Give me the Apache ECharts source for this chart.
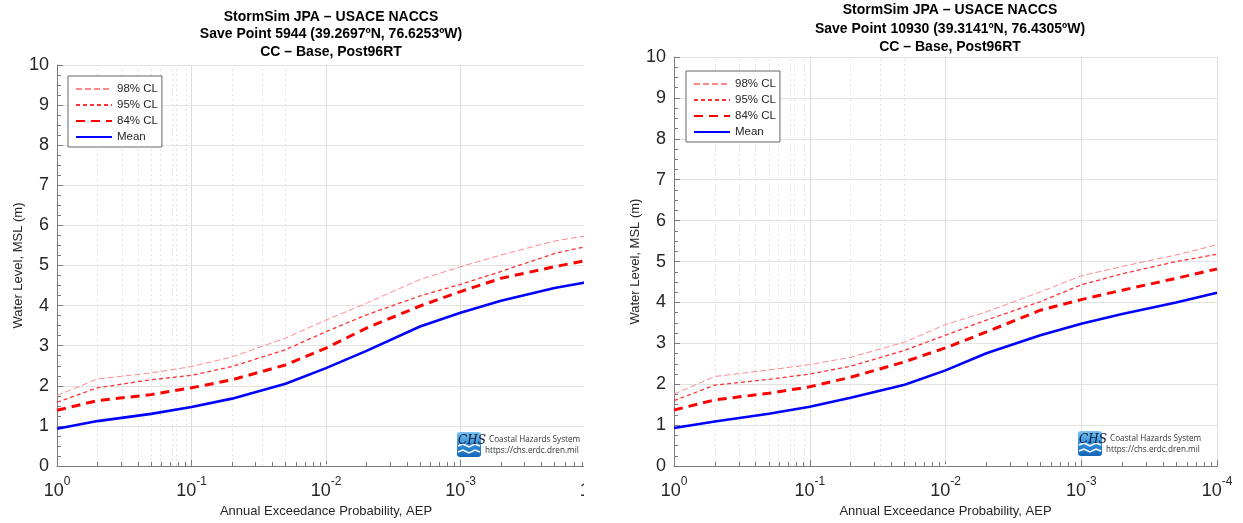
<!DOCTYPE html>
<html>
<head>
<meta charset="utf-8">
<script src="https://cdn.jsdelivr.net/npm/echarts@6/dist/echarts.min.js"></script>
<style>
html,body{margin:0;padding:0;background:#fff;}
#c{width:1243px;height:523px;}
</style>
</head>
<body>
<div id="c"></div>
<script>
// ---- data ----
const aep = [1, 0.5, 0.2, 0.1, 0.05, 0.02, 0.01, 0.005, 0.002, 0.001, 0.0005, 0.0002, 0.0001];
// Left: Save Point 5944
const meanL = [0.93, 1.12, 1.30, 1.47, 1.68, 2.05, 2.44, 2.87, 3.48, 3.82, 4.12, 4.44, 4.62];
const cl84L = [1.39, 1.63, 1.78, 1.95, 2.15, 2.52, 2.94, 3.44, 3.99, 4.35, 4.68, 4.97, 5.17];
const cl95L = [1.59, 1.95, 2.15, 2.26, 2.48, 2.90, 3.35, 3.77, 4.24, 4.53, 4.85, 5.30, 5.52];
const cl98L = [1.76, 2.17, 2.32, 2.48, 2.72, 3.19, 3.64, 4.06, 4.65, 4.97, 5.26, 5.61, 5.78];
// Right: Save Point 10930
const meanR = [0.93, 1.09, 1.28, 1.45, 1.67, 1.99, 2.34, 2.76, 3.20, 3.48, 3.72, 4.00, 4.24];
const cl84R = [1.37, 1.62, 1.78, 1.94, 2.17, 2.55, 2.89, 3.28, 3.81, 4.07, 4.30, 4.59, 4.82];
const cl95R = [1.60, 1.98, 2.12, 2.25, 2.44, 2.83, 3.20, 3.57, 4.02, 4.43, 4.70, 5.00, 5.18];
const cl98R = [1.76, 2.19, 2.35, 2.48, 2.66, 3.03, 3.46, 3.77, 4.26, 4.65, 4.88, 5.16, 5.41];

const seriesNames = ['98% CL', '95% CL', '84% CL', 'Mean'];
const titleL = 'StormSim JPA \u2013 USACE NACCS\nSave Point 5944 (39.2697\u00baN, 76.6253\u00baW)\nCC \u2013 Base, Post96RT';
const titleR = 'StormSim JPA \u2013 USACE NACCS\nSave Point 10930 (39.3141\u00baN, 76.4305\u00baW)\nCC \u2013 Base, Post96RT';
const xName = 'Annual Exceedance Probability, AEP';
const yName = 'Water Level, MSL (m)';

// minor grid positions (return periods 2..9 per decade)
const minorAep = [];
for (let k = 0; k < 4; k++) for (let m = 2; m <= 9; m++) minorAep.push(1 / (m * Math.pow(10, k)));

const FONT = 'Liberation Sans, Arial, Helvetica, sans-serif';
const styles = {
  '98% CL': {color: '#ff8a8a', width: 1, type: [6, 3]},
  '95% CL': {color: '#ff3030', width: 1.3, type: [4, 3]},
  '84% CL': {color: '#ff0000', width: 3, type: [9, 6]},
  'Mean':   {color: '#0000ff', width: 2.6, type: 'solid'}
};

function lineSeries(name, vals, idx) {
  const st = styles[name];
  return {
    name: name, type: 'line', xAxisIndex: idx, yAxisIndex: idx,
    data: aep.map((a, i) => [a, vals[i]]),
    showSymbol: false, symbol: 'none', smooth: false, z: 3,
    itemStyle: {color: st.color},
    lineStyle: {color: st.color, width: st.width, type: st.type},
    emphasis: {disabled: true}, animation: false
  };
}

function helperSeries(idx) {
  const ticks = [];
  minorAep.forEach(p => ticks.push([{coord: [p, 0]}, {coord: [p, 0.1]}]));
  return [{
    type: 'line', xAxisIndex: idx, yAxisIndex: idx, data: [], z: 1, silent: true,
    markLine: {
      z: 1, silent: true, symbol: 'none', animation: false, label: {show: false},
      lineStyle: {color: '#e2e2e2', type: [2, 3], width: 1},
      emphasis: {disabled: true},
      data: minorAep.map(p => ({xAxis: p}))
    }
  }, {
    type: 'line', xAxisIndex: idx, yAxisIndex: idx, data: [], z: 4, silent: true,
    markLine: {
      z: 4, silent: true, symbol: 'none', animation: false, label: {show: false},
      lineStyle: {color: '#7a7a7a', type: 'solid', width: 1},
      emphasis: {disabled: true},
      data: ticks
    }
  }];
}

function xAxis(idx) {
  return {
    type: 'log', logBase: 10, gridIndex: idx, min: 0.0001, max: 1, inverse: true, splitNumber: 4,
    name: xName, nameLocation: 'middle', nameGap: 38,
    nameTextStyle: {fontSize: 13, color: '#262626', fontFamily: FONT},
    axisLine: {show: true, lineStyle: {color: '#7a7a7a', width: 1}},
    axisTick: {show: true, inside: true, length: 6, lineStyle: {color: '#7a7a7a'}},
    splitLine: {show: true, lineStyle: {color: '#dedede', width: 1}},
    axisLabel: {
      margin: 10, color: '#262626', fontFamily: FONT,
      formatter: function (v) {
        const e = Math.round(Math.log10(v));
        return '{b|10}{s|' + e + '}';
      },
      rich: {
        b: {fontSize: 18, color: '#262626', fontFamily: FONT, lineHeight: 24, verticalAlign: 'bottom'},
        s: {fontSize: 12, color: '#262626', fontFamily: FONT, verticalAlign: 'top'}
      }
    }
  };
}

function yAxis(idx) {
  return {
    type: 'value', gridIndex: idx, min: 0, max: 10, interval: 1,
    name: yName, nameLocation: 'middle', nameGap: 30,
    nameTextStyle: {fontSize: 13, color: '#262626', fontFamily: FONT},
    axisLine: {show: true, lineStyle: {color: '#7a7a7a', width: 1}},
    axisTick: {show: true, inside: true, length: 6, lineStyle: {color: '#7a7a7a'}},
    minorTick: {show: true, splitNumber: 4, length: 4, lineStyle: {color: '#7a7a7a'}},
    splitLine: {show: true, lineStyle: {color: '#e3e3e3', width: 1}},
    axisLabel: {fontSize: 18, color: '#262626', margin: 8, fontFamily: FONT}
  };
}

function legend(left, top) {
  return {
    orient: 'vertical', left: left, top: top, data: seriesNames,
    itemWidth: 36, itemHeight: 10, itemGap: 4,
    padding: [7, 4, 4, 7],
    itemStyle: {opacity: 0, borderWidth: 0},
    backgroundColor: '#fff', borderColor: '#666', borderWidth: 1, borderRadius: 0,
    textStyle: {fontSize: 11.5, color: '#262626', fontFamily: FONT, lineHeight: 12},
    selectedMode: false
  };
}

function logo(x, y) {
  return [
    {type: 'rect', left: x, top: y, z: 50, shape: {width: 24, height: 25, r: 3},
     style: {fill: new echarts.graphic.LinearGradient(0, 0, 0, 1, [
       {offset: 0, color: '#7cc4f0'}, {offset: 0.5, color: '#2f8fd8'}, {offset: 1, color: '#1565b8'}])}},
    {type: 'polyline', z: 51, shape: {points: [[x + 1, y + 14], [x + 6, y + 12], [x + 12, y + 15], [x + 18, y + 12], [x + 23, y + 14]]},
     style: {stroke: '#ffffff', lineWidth: 1.5, fill: null}},
    {type: 'polyline', z: 51, shape: {points: [[x + 1, y + 20], [x + 6, y + 18], [x + 12, y + 21], [x + 18, y + 18], [x + 23, y + 20]]},
     style: {stroke: '#ffffff', lineWidth: 1.5, fill: null}},
    {type: 'text', left: x + 1, top: y + 3, z: 52,
     style: {text: 'CHS', fontSize: 12, fontStyle: 'italic', fontFamily: 'DejaVu Serif, serif', fill: '#10163a'}},
    {type: 'text', left: x + 32, top: y + 4, z: 52,
     style: {text: 'Coastal Hazards System', fontSize: 8.2, fontFamily: 'Open Sans, sans-serif', fill: '#333'}},
    {type: 'text', left: x + 28, top: y + 15, z: 52,
     style: {text: 'https://chs.erdc.dren.mil', fontSize: 8.2, fontFamily: 'Open Sans, sans-serif', fill: '#333'}}
  ];
}

const chart = echarts.init(document.getElementById('c'), null, {renderer: 'canvas'});
const series = [].concat(
  helperSeries(0), helperSeries(1),
  [lineSeries('98% CL', cl98L, 0), lineSeries('95% CL', cl95L, 0), lineSeries('84% CL', cl84L, 0), lineSeries('Mean', meanL, 0)],
  [lineSeries('98% CL', cl98R, 1), lineSeries('95% CL', cl95R, 1), lineSeries('84% CL', cl84R, 1), lineSeries('Mean', meanR, 1)]
);

chart.setOption({
  animation: false,
  backgroundColor: '#fff',
  title: [
    {text: titleL, left: 326, top: 3, textAlign: 'center',
     textStyle: {fontSize: 14, fontWeight: 'bold', color: '#000', lineHeight: 17.5, fontFamily: FONT}},
    {text: titleR, left: 945, top: -4, textAlign: 'center',
     textStyle: {fontSize: 14, fontWeight: 'bold', color: '#000', lineHeight: 18.5, fontFamily: FONT}}
  ],
  legend: [legend(68, 76), legend(686, 71)],
  grid: [
    {left: 57, right: 648, top: 65, bottom: 57, containLabel: false},
    {left: 674, right: 26, top: 57, bottom: 56, containLabel: false}
  ],
  xAxis: [xAxis(0), xAxis(1)],
  yAxis: [yAxis(0), yAxis(1)],
  series: series,
  graphic: [].concat(
    [{type: 'rect', left: 584, top: 0, z: 100, shape: {width: 38, height: 523}, style: {fill: '#fff'}}],
    logo(457, 432), logo(1078, 431)
  )
});
</script>
</body>
</html>
